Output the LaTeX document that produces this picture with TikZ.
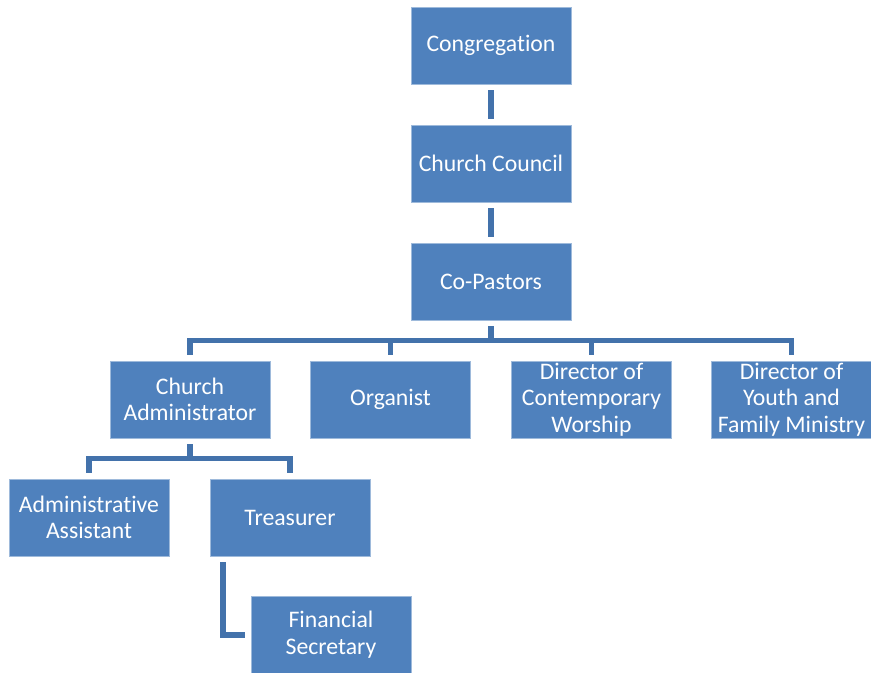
\documentclass[tikz,border=0pt]{standalone}
\usepackage{fontspec}
\setmainfont{Carlito}[Ligatures={NoCommon}]
\definecolor{boxblue}{HTML}{4F81BD}
\definecolor{lineblue}{HTML}{4372AB}
\begin{document}
\begin{tikzpicture}[x=0.75pt, y=-0.75pt,
        unit/.style={fill=boxblue, draw=boxblue!55!white, line width=0.4pt, text=white,
            minimum width=120pt, minimum height=57.75pt, inner sep=0pt, align=center,
            font=\fontsize{17.8}{20}\selectfont},
        link/.style={draw=lineblue, line width=4.1pt, shorten <=4.5pt, shorten >=4.5pt}]
        \useasboundingbox (0,0) rectangle (871,673);
        \draw
            (491, 45.5) node[unit] (cong) {Congregation}
            (491, 163.5) node[unit] (council) {Church Council}
            (491, 281.5) node[unit] (pastors) {Co-Pastors}
            (190, 399.5) node[unit] (admin) {Church\\Administrator}
            (390.5, 399.5) node[unit] (organist) {Organist}
            (591.5, 399.5) node[unit] (worship) {Director of\\Contemporary\\Worship}
            (791.5, 399.5) node[unit] (youth) {Director of\\Youth and\\Family Ministry}
            (89, 517.5) node[unit] (assistant) {Administrative\\Assistant}
            (290, 517.5) node[unit] (treasurer) {Treasurer}
            (331, 635) node[unit] (finsec) {Financial\\Secretary}
            ;
        \coordinate (busA) at (491, 340.5);
        \coordinate (busB) at (190, 458.5);

        \draw[link] (cong) -- (council);
        \draw[link] (council) -- (pastors);
        \draw[link] (pastors) -- (busA) -| (admin);
        \draw[link] (pastors) -- (busA) -| (organist);
        \draw[link] (pastors) -- (busA) -| (worship);
        \draw[link] (pastors) -- (busA) -| (youth);
        \draw[link] (admin) -- (busB) -| (assistant);
        \draw[link] (admin) -- (busB) -| (treasurer);
        \draw[link] ([xshift=10.1pt]treasurer.south west) |- (finsec);
    \end{tikzpicture}
\end{document}
